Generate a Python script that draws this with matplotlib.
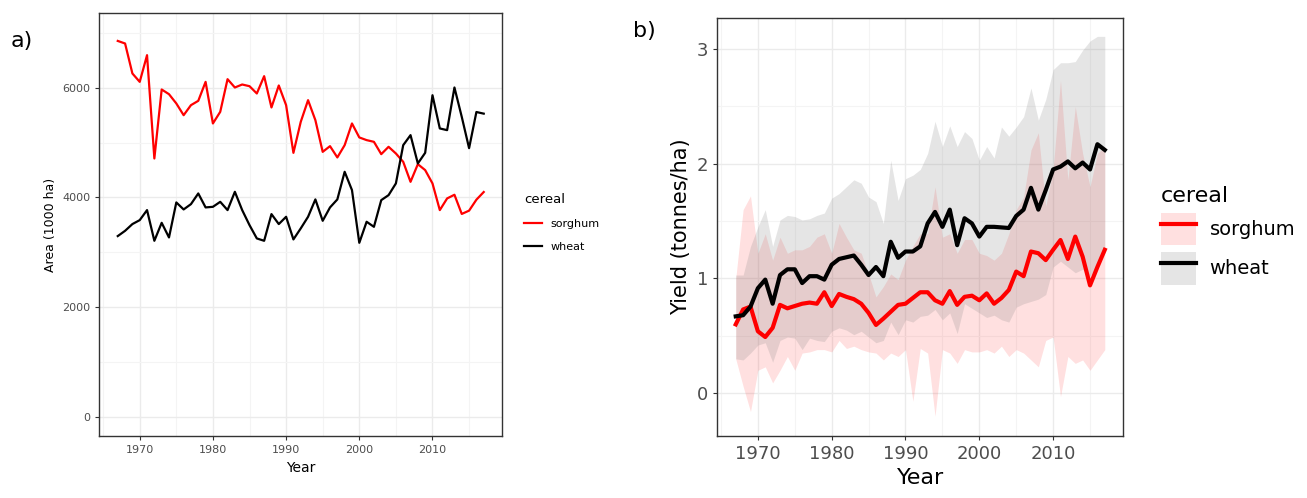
import numpy as np
import matplotlib.pyplot as plt
from matplotlib.patches import Patch
from matplotlib.lines import Line2D
from matplotlib.ticker import MultipleLocator

years = np.arange(1967, 2018)

# area (1000 ha)
sorghum_area = [6857, 6810, 6263, 6110, 6597, 4712, 5971, 5885, 5716, 5502,
                5685, 5764, 6110, 5351, 5563, 6159, 6007, 6062, 6031, 5898,
                6214, 5643, 6044, 5685, 4815, 5380, 5776, 5411, 4833, 4937,
                4731, 4955, 5351, 5096, 5047, 5016, 4791, 4925, 4803, 4651,
                4286, 4608, 4500, 4257, 3770, 3983, 4050, 3700, 3760, 3960,
                4100]
wheat_area = [3296, 3392, 3515, 3587, 3770, 3210, 3538, 3271, 3910, 3782,
              3879, 4074, 3819, 3830, 3921, 3770, 4104, 3770, 3496, 3253,
              3210, 3697, 3515, 3648, 3235, 3436, 3648, 3965, 3575, 3819,
              3965, 4469, 4135, 3173, 3557, 3465, 3952, 4043, 4257, 4955,
              5138, 4621, 4815, 5866, 5260, 5229, 6007, 5471, 4900, 5560,
              5530]

# yield (tonnes/ha)
sorghum_yield = [0.60, 0.73, 0.755, 0.54, 0.49, 0.57, 0.77, 0.74, 0.76, 0.78,
                 0.79, 0.78, 0.88, 0.76, 0.865, 0.84, 0.82, 0.78, 0.70, 0.595,
                 0.65, 0.71, 0.77, 0.78, 0.83, 0.88, 0.88, 0.81, 0.78, 0.89,
                 0.77, 0.84, 0.85, 0.81, 0.87, 0.78, 0.83, 0.90, 1.06, 1.02,
                 1.235, 1.22, 1.16, 1.25, 1.335, 1.17, 1.365, 1.19, 0.94, 1.10,
                 1.25]
sorghum_lo = [0.30, 0.06, -0.16, 0.20, 0.23, 0.09, 0.20, 0.32, 0.20, 0.35,
              0.36, 0.38, 0.38, 0.36, 0.46, 0.39, 0.41, 0.38, 0.36, 0.35,
              0.29, 0.35, 0.32, 0.38, -0.07, 0.39, 0.35, -0.20, 0.38, 0.35,
              0.26, 0.38, 0.36, 0.36, 0.38, 0.35, 0.41, 0.32, 0.38, 0.35,
              0.29, 0.23, 0.46, 0.49, -0.03, 0.32, 0.26, 0.29, 0.20, 0.29,
              0.38]
sorghum_hi = [1.00, 1.60, 1.72, 1.22, 1.39, 1.16, 1.36, 1.22, 1.25, 1.25,
              1.28, 1.36, 1.39, 1.22, 1.48, 1.36, 1.25, 1.22, 1.04, 0.84,
              0.93, 1.04, 0.99, 1.16, 1.28, 1.39, 1.39, 1.80, 1.36, 1.39,
              1.22, 1.34, 1.34, 1.22, 1.20, 1.16, 1.22, 1.39, 1.60, 1.71,
              2.12, 2.27, 1.63, 1.95, 2.73, 1.86, 2.50, 2.09, 1.80, 2.09,
              2.15]
wheat_yield = [0.67, 0.68, 0.755, 0.915, 0.99, 0.78, 1.03, 1.08, 1.08, 0.96,
               1.02, 1.02, 0.99, 1.12, 1.17, 1.185, 1.20, 1.12, 1.03, 1.10,
               1.02, 1.32, 1.18, 1.235, 1.235, 1.28, 1.48, 1.58, 1.45, 1.60,
               1.29, 1.525, 1.48, 1.365, 1.45, 1.45, 1.445, 1.44, 1.545, 1.60,
               1.79, 1.60, 1.77, 1.95, 1.975, 2.02, 1.96, 2.01, 1.95, 2.17,
               2.12]
wheat_lo = [0.30, 0.29, 0.35, 0.42, 0.44, 0.27, 0.46, 0.49, 0.48, 0.38,
            0.48, 0.46, 0.45, 0.54, 0.57, 0.55, 0.51, 0.54, 0.49, 0.44,
            0.46, 0.62, 0.51, 0.64, 0.62, 0.67, 0.68, 0.73, 0.64, 0.70,
            0.52, 0.78, 0.74, 0.70, 0.66, 0.68, 0.64, 0.62, 0.75, 0.78,
            0.80, 0.82, 0.86, 1.10, 1.15, 1.10, 1.05, 1.08, 1.02, 1.12,
            1.22]
wheat_hi = [1.03, 1.03, 1.28, 1.45, 1.60, 1.28, 1.51, 1.55, 1.54, 1.51,
            1.52, 1.55, 1.57, 1.70, 1.74, 1.80, 1.86, 1.83, 1.71, 1.67,
            1.48, 2.03, 1.68, 1.87, 1.90, 1.95, 2.09, 2.37, 2.15, 2.33,
            2.15, 2.28, 2.22, 2.03, 2.15, 2.05, 2.32, 2.24, 2.32, 2.41,
            2.66, 2.38, 2.56, 2.82, 2.88, 2.88, 2.89, 2.99, 3.07, 3.11,
            3.11]

tick_col = "#4D4D4D"
grid_major = "#EBEBEB"
grid_minor = "#F4F4F4"


def ggstyle(ax, fs):
    ax.set_facecolor("white")
    for s in ax.spines.values():
        s.set_color("#333333")
        s.set_linewidth(1.0)
    ax.grid(True, which="major", color=grid_major, lw=1.0)
    ax.grid(True, which="minor", color=grid_minor, lw=0.8)
    ax.set_axisbelow(True)
    ax.tick_params(which="major", colors="#333333", labelcolor=tick_col,
                   labelsize=fs, length=3, width=0.8)
    ax.tick_params(which="minor", length=0)


fig = plt.figure(figsize=(13.07, 4.98), dpi=100)

# a) area
ax1 = fig.add_axes([0.0761, 0.1245, 0.308, 0.849])
ax1.plot(years, sorghum_area, color="red", lw=1.6)
ax1.plot(years, wheat_area, color="black", lw=1.6)
ax1.set_xlim(1964.5, 2019.5)
ax1.set_ylim(-352, 7363)
ax1.xaxis.set_major_locator(MultipleLocator(10))
ax1.xaxis.set_minor_locator(MultipleLocator(5))
ax1.yaxis.set_major_locator(MultipleLocator(2000))
ax1.yaxis.set_minor_locator(MultipleLocator(1000))
ggstyle(ax1, 8)
ax1.set_xlabel("Year", fontsize=10)
ax1.set_ylabel("Area (1000 ha)", fontsize=9)
leg1 = ax1.legend(
    [Line2D([], [], color="red", lw=1.6), Line2D([], [], color="black", lw=1.6)],
    ["sorghum", "wheat"], title="cereal", loc="center left",
    bbox_to_anchor=(1.03, 0.505), frameon=False, fontsize=8,
    title_fontsize=9.5, handlelength=1.6, labelspacing=1.2)
leg1._legend_box.align = "left"

# b) yield
ax2 = fig.add_axes([0.5488, 0.1251, 0.3106, 0.8388])
ax2.fill_between(years, sorghum_lo, sorghum_hi, color="red", alpha=0.12, lw=0)
ax2.fill_between(years, wheat_lo, wheat_hi, color="grey", alpha=0.2, lw=0)
ax2.plot(years, sorghum_yield, color="red", lw=3)
ax2.plot(years, wheat_yield, color="black", lw=3)
ax2.set_xlim(1964.5, 2019.5)
ax2.set_ylim(-0.37, 3.27)
ax2.xaxis.set_major_locator(MultipleLocator(10))
ax2.xaxis.set_minor_locator(MultipleLocator(5))
ax2.yaxis.set_major_locator(MultipleLocator(1))
ax2.yaxis.set_minor_locator(MultipleLocator(0.5))
ggstyle(ax2, 13)
ax2.set_xlabel("Year", fontsize=16)
ax2.set_ylabel("Yield (tonnes/ha)", fontsize=15)
h_s = (Patch(facecolor="red", alpha=0.12), Line2D([], [], color="red", lw=3))
h_w = (Patch(facecolor="grey", alpha=0.2), Line2D([], [], color="black", lw=3))
leg2 = ax2.legend([h_s, h_w], ["sorghum", "wheat"], title="cereal",
                  loc="center left", bbox_to_anchor=(1.05, 0.48), frameon=False,
                  fontsize=14, title_fontsize=16, handlelength=1.8,
                  handleheight=2.2, labelspacing=0.35, handletextpad=0.7)
leg2._legend_box.align = "left"

fig.text(0.008, 0.905, "a)", fontsize=16)
fig.text(0.484, 0.925, "b)", fontsize=16)

fig.savefig("out.png", dpi=100)
